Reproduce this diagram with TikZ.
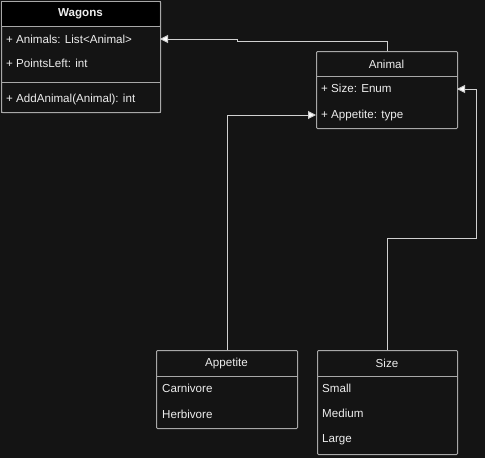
\documentclass[tikz,border=0pt]{standalone}
\usepackage{fontspec}
\setmainfont{Liberation Sans}
\usetikzlibrary{arrows.meta}
\definecolor{bgdark}{HTML}{141414}
\definecolor{boxline}{HTML}{A8A8A8}
\definecolor{linkline}{HTML}{D0D0D0}
\definecolor{txtlight}{HTML}{EDEDED}
\tikzset{
  classbox/.style={draw=boxline, line width=1pt, fill=bgdark, rounded corners=1pt,
    anchor=north west, inner sep=0pt},
  title/.style={text=txtlight, font=\fontsize{11.6}{13}\selectfont, inner sep=0pt},
  member/.style={text=txtlight, font=\fontsize{11.6}{13}\selectfont, anchor=west, inner sep=0pt},
  sep/.style={draw=boxline, line width=1pt},
  link/.style={draw=linkline, line width=1pt,
    -{Triangle[length=8pt,width=8pt,fill=white]}}
}
\begin{document}
\begin{tikzpicture}[x=1pt,y=-1pt]
                \fill[bgdark] (0,0) rectangle (485,458);
                \useasboundingbox (0,0) rectangle (485,458);

                % Wagons
                \node[classbox, minimum width=159pt, minimum height=111pt] (wagons) at (1,1) {};
                \fill[black, rounded corners=1pt] (1.5,1.5) rectangle (159.5,26);
                \draw[sep] (1,1) rectangle (160,112);
                \draw[sep] (1,26) -- (160,26);
                \draw[sep] (1,82) -- (160,82);
                \node[title, font=\bfseries\fontsize{11.6}{13}\selectfont] (wagonsname) at (80.5,13.5) {Wagons};
                \node[member] (animals) at (6,39) {+ Animals: List<Animal>};
                \node[member] (pointsleft) at (6,63) {+ PointsLeft: int};
                \node[member] (addanimal) at (6,99) {+ AddAnimal(Animal): int};

                % Animal
                \node[classbox, minimum width=141pt, minimum height=77pt] (animal) at (316,51) {};
                \draw[sep] (316,76) -- (457,76);
                \node[title] (animalname) at (386.5,64) {Animal};
                \node[member] (sizeattr) at (321,88) {+ Size: Enum};
                \node[member] (appetiteattr) at (321,115) {+ Appetite: type};

                % Appetite
                \node[classbox, minimum width=141pt, minimum height=78pt] (appetite) at (156,350) {};
                \draw[sep] (156,376) -- (297,376);
                \node[title] (appetitename) at (226.5,363) {Appetite};
                \node[member] (carnivore) at (162,388) {Carnivore};
                \node[member] (herbivore) at (162,414) {Herbivore};

                % Size
                \node[classbox, minimum width=140pt, minimum height=104pt] (size) at (317,350) {};
                \draw[sep] (317,376) -- (457,376);
                \node[title] (sizename) at (387,363) {Size};
                \node[member] (small) at (322,388) {Small};
                \node[member] (medium) at (322,413) {Medium};
                \node[member] (large) at (322,440) {Large};

                % links
                \coordinate (wagonsin) at (160,39);
                \coordinate (animalwest) at (316,115);
                \coordinate (animaleast) at (457,89);
                \draw[link] (animal.north) |- (237,41) -- (237,39) -- (wagonsin);
                \draw[link] (appetite.north) |- (animalwest);
                \draw[link] (size.north) |- (476,238) -- (476,89) -- (animaleast);
            \end{tikzpicture}
\end{document}
